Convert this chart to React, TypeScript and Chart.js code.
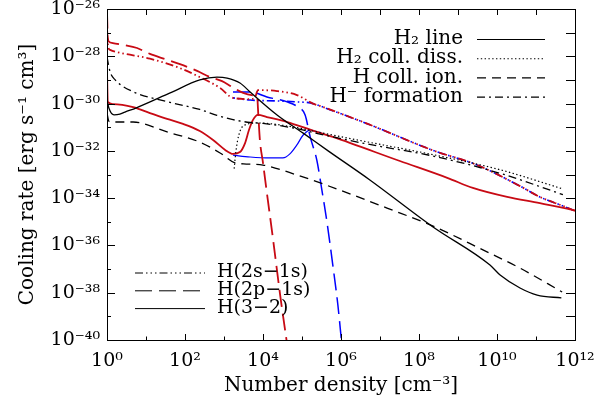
import { useEffect, useRef } from "react";
import { Chart, registerables } from "chart.js";

Chart.register(...registerables);

const FONT_FAMILY = "'DejaVu Serif', 'Liberation Serif', serif";

// ---- Data: log10 of number density [cm^-3] and log10 of cooling rate [erg s^-1 cm^3] ----
// Black curves (molecular / ionisation processes)
const h2LineN = [0, 0.05, 0.18, 0.33, 0.46, 0.74, 1.62, 2.38, 2.82, 3.08, 3.41, 3.67, 4.36, 5.03, 5.67, 6.74, 8.36, 9.82, 10.08, 10.59, 11.03, 11.65];
const h2LineRate = [-29.85, -30.2, -30.48, -30.45, -30.36, -30.19, -29.55, -29.0, -28.88, -28.92, -29.13, -29.51, -30.48, -31.25, -32.0, -33.23, -35.22, -36.83, -37.25, -37.8, -38.1, -38.22];

const h2DissN = [3.26, 3.31, 3.38, 3.49, 3.85, 4.77, 5.46, 6.67, 8.36, 10.08, 11.69];
const h2DissRate = [-32.75, -31.96, -31.33, -30.95, -30.82, -30.99, -31.22, -31.62, -32.16, -32.8, -33.61];

const hIonN = [0, 0.05, 0.15, 0.67, 1.54, 2.38, 2.9, 3.28, 3.5, 4.0, 4.87, 5.54, 6.31, 7.18, 8.36, 9.64, 10.59, 11.67];
const hIonRate = [-30.4, -30.75, -30.78, -30.78, -31.2, -31.63, -32.09, -32.51, -32.55, -32.6, -33.02, -33.4, -33.87, -34.42, -35.18, -36.19, -36.96, -37.97];

const hMinusN = [0, 0.08, 0.21, 0.67, 1.54, 2.38, 2.82, 3.23, 3.67, 4.0, 4.77, 5.46, 6.67, 8.36, 10.08, 11.69];
const hMinusRate = [-28.03, -28.66, -29.0, -29.5, -29.92, -30.25, -30.5, -30.68, -30.8, -30.84, -31.03, -31.29, -31.71, -32.22, -32.95, -33.85];

// Red curves (atomic hydrogen lines, case 1)
const red2s1sN = [0, 0.03, 0.08, 0.33, 1.1, 1.87, 2.38, 2.9, 3.23, 3.67, 3.79, 3.87, 4.36, 4.87, 5.28, 5.46, 6.67, 8.36, 9.49, 10.59, 11.1, 11.69, 12.0];
const red2s1sRate = [-26.8, -27.6, -27.73, -27.85, -28.1, -28.5, -28.88, -29.34, -29.76, -29.81, -29.76, -29.43, -29.47, -29.64, -30.0, -30.1, -30.85, -31.98, -32.6, -33.49, -33.95, -34.33, -34.54];

const red2p1sN = [0, 0.02, 0.05, 0.15, 0.41, 0.77, 1.1, 1.49, 1.87, 2.31, 2.64, 2.95, 3.21, 3.49, 3.79, 3.85, 3.88, 3.92, 4.0, 4.1, 4.26, 4.44, 4.62];
const red2p1sRate = [-26.1, -27.2, -27.38, -27.44, -27.52, -27.65, -27.9, -28.12, -28.33, -28.62, -28.88, -29.05, -29.3, -29.55, -29.66, -29.72, -30.48, -31.54, -32.51, -33.78, -35.77, -38.1, -40.2];

const red32N = [0, 0.02, 0.15, 0.67, 1.1, 1.54, 1.95, 2.38, 2.72, 3.03, 3.23, 3.41, 3.54, 3.64, 3.74, 3.87, 4.1, 4.62, 5.21, 5.79, 7.51, 8.74, 9.38, 10.26, 11.1, 12.0];
const red32Rate = [-28.6, -29.93, -30.02, -30.15, -30.4, -30.65, -30.86, -31.16, -31.54, -31.96, -32.13, -32.05, -31.67, -31.12, -30.7, -30.48, -30.57, -30.78, -31.1, -31.41, -32.43, -33.15, -33.57, -33.95, -34.21, -34.52];

// Blue curves (atomic hydrogen lines, case 2)
const blue2s1sN = [3.23, 3.67, 4.36, 4.87, 5.21, 5.36, 5.46, 6.67, 8.36, 9.49, 10.59, 11.1, 11.69, 12.0];
const blue2s1sRate = [-29.76, -29.85, -29.89, -29.93, -29.97, -30.04, -30.1, -30.85, -31.98, -32.6, -33.49, -33.95, -34.33, -34.54];

const blue2p1sN = [3.23, 3.67, 4.1, 4.62, 4.9, 5.08, 5.21, 5.38, 5.51, 5.64, 5.79, 5.92, 6.01];
const blue2p1sRate = [-29.51, -29.51, -29.72, -29.93, -30.15, -30.48, -31.41, -32.39, -33.66, -35.01, -36.83, -38.52, -40.0];

const blue32N = [3.23, 3.67, 4.18, 4.51, 4.69, 4.87, 5.03, 5.21, 5.36, 5.5];
const blue32Rate = [-32.18, -32.26, -32.3, -32.3, -32.13, -31.75, -31.33, -31.12, -31.18, -31.25];

// Axis ticks (exponents) and texts
const xTickExps = [0, 1, 2, 3, 4, 5, 6, 7, 8, 9, 10, 11, 12];
const yTickExps = [-40, -39, -38, -37, -36, -35, -34, -33, -32, -31, -30, -29, -28, -27, -26];
const xTitle = "Number density [cm⁻³]";
const yTitle = "Cooling rate [erg s⁻¹ cm³]";
const processLabels = ["H₂ line", "H₂ coll. diss.", "H coll. ion.", "H⁻ formation"];
const lineLabels = ["H(2s−1s)", "H(2p−1s)", "H(3−2)"];

// Styles
const RED = "#c80a14";
const BLUE = "#0000ff";
const BLACK = "#000000";
const DOT = [1.4, 2.4];
const DASH = [9, 6];
const DASHDOT = [8, 4, 2, 4];
const LONGDASH = [17, 7];
const DASH3DOT = [8, 3, 1.5, 3, 1.5, 3, 1.5, 3];
const DASH2DOT = [8, 3, 1.5, 3, 1.5, 3];
const processDashes = [[], DOT, DASH, DASHDOT];
const lineDashes = [DASH3DOT, LONGDASH, []];

const SUP: Record<string, string> = {
  "-": "⁻", "0": "⁰", "1": "¹", "2": "²", "3": "³", "4": "⁴",
  "5": "⁵", "6": "⁶", "7": "⁷", "8": "⁸", "9": "⁹",
};
const sup = (e: number) => String(e).split("").map((c) => SUP[c] ?? c).join("");

const pts = (ns: number[], rs: number[]) => ns.map((n, i) => ({ x: Math.pow(10, n), y: Math.pow(10, rs[i]) }));

function ds(label: string, ns: number[], rs: number[], color: string, dash: number[], width: number, offset = 0) {
  return {
    label,
    data: pts(ns, rs),
    borderColor: color,
    backgroundColor: color,
    borderWidth: width,
    borderDash: dash,
    borderDashOffset: offset,
    pointRadius: 0,
    pointHoverRadius: 0,
    fill: false,
    cubicInterpolationMode: "monotone" as const,
  };
}

const framePlugin = {
  id: "frame",
  afterDraw(chart: any) {
    const { ctx, chartArea: a } = chart;
    const xs = chart.scales.x;
    const ys = chart.scales.y;
    ctx.save();
    ctx.strokeStyle = "#000";
    ctx.lineWidth = 1;
    ctx.setLineDash([]);
    ctx.strokeRect(a.left + 0.5, a.top + 0.5, a.right - a.left, a.bottom - a.top);
    ctx.beginPath();
    xTickExps.forEach((e) => {
      const px = Math.round(xs.getPixelForValue(Math.pow(10, e))) + 0.5;
      const major = e % 2 === 0;
      ctx.moveTo(px, a.bottom);
      ctx.lineTo(px, a.bottom - (major ? 6 : 3.5));
      ctx.moveTo(px, a.top);
      ctx.lineTo(px, a.top + 6);
    });
    yTickExps.forEach((e) => {
      const py = Math.round(ys.getPixelForValue(Math.pow(10, e))) + 0.5;
      const major = e % 2 === 0;
      ctx.moveTo(a.left, py);
      ctx.lineTo(a.left + (major ? 8 : 4), py);
      ctx.moveTo(a.right, py);
      ctx.lineTo(a.right - 9, py);
    });
    ctx.stroke();
    ctx.restore();
  },
};

const legendPlugin = {
  id: "innerLegends",
  afterDraw(chart: any) {
    const { ctx, chartArea: a } = chart;
    ctx.save();
    ctx.font = `20px ${FONT_FAMILY}`;
    ctx.fillStyle = "#000";
    ctx.strokeStyle = "#000";
    ctx.textBaseline = "middle";
    ctx.lineWidth = 1.1;
    ctx.textAlign = "right";
    processLabels.forEach((lab, i) => {
      const y = a.top + 30 + i * 19.2;
      ctx.fillText(lab, a.right - 112, y);
      ctx.setLineDash(processDashes[i]);
      ctx.beginPath();
      ctx.moveTo(a.right - 98, y + 0.5);
      ctx.lineTo(a.right - 30, y + 0.5);
      ctx.stroke();
    });
    ctx.font = `19px ${FONT_FAMILY}`;
    ctx.textAlign = "left";
    ctx.lineWidth = 1;
    lineLabels.forEach((lab, i) => {
      const y = a.bottom - 67.5 + i * 17.8;
      ctx.fillText(lab, a.left + 110, y);
      ctx.setLineDash(lineDashes[i]);
      ctx.beginPath();
      ctx.moveTo(a.left + 28, y + 0.5);
      ctx.lineTo(a.left + 98, y + 0.5);
      ctx.stroke();
    });
    ctx.restore();
  },
};

const tickLabel = (v: number | string) => {
  const e = Math.round(Math.log10(Number(v)));
  return e % 2 === 0 ? "10" + sup(e) : "";
};

export default function App() {
  const ref = useRef<HTMLCanvasElement | null>(null);
  useEffect(() => {
    document.body.style.margin = "0";
    if (!ref.current) return;
    const chart = new Chart(ref.current, {
      type: "line",
      data: {
        datasets: [
          ds("H2 line", h2LineN, h2LineRate, BLACK, [], 1.3),
          ds("H2 coll. diss.", h2DissN, h2DissRate, BLACK, DOT, 1.2),
          ds("H coll. ion.", hIonN, hIonRate, BLACK, DASH, 1.3),
          ds("H- formation", hMinusN, hMinusRate, BLACK, DASHDOT, 1.3),
          ds("H(3-2) red", red32N, red32Rate, RED, [], 1.8),
          ds("H(2s-1s) red", red2s1sN, red2s1sRate, RED, DASH2DOT, 1.8),
          ds("H(2p-1s) red", red2p1sN, red2p1sRate, RED, LONGDASH, 1.8),
          ds("H(3-2) blue", blue32N, blue32Rate, BLUE, [], 1.2),
          ds("H(2s-1s) blue", blue2s1sN, blue2s1sRate, BLUE, DASH2DOT, 1.6, 6),
          ds("H(2p-1s) blue", blue2p1sN, blue2p1sRate, BLUE, LONGDASH, 1.5),
        ],
      },
      options: {
        responsive: false,
        animation: false,
        events: [],
        layout: { padding: { left: 0, right: 41, top: 9, bottom: 0 } },
        plugins: { legend: { display: false }, tooltip: { enabled: false }, title: { display: false } },
        scales: {
          x: {
            type: "logarithmic",
            min: 1,
            max: 1e12,
            afterBuildTicks: (scale: any) => {
              scale.ticks = xTickExps.map((e) => ({ value: Math.pow(10, e) }));
            },
            afterFit: (scale: any) => {
              scale.height = 60;
              scale.paddingLeft = 0;
              scale.paddingRight = 0;
            },
            ticks: {
              autoSkip: false,
              maxRotation: 0,
              minRotation: 0,
              padding: 10,
              color: "#000",
              font: { family: FONT_FAMILY, size: 19, lineHeight: 1.2 },
              callback: tickLabel,
            },
            grid: { display: false, drawTicks: false },
            border: { display: false },
            title: {
              display: true,
              text: xTitle,
              color: "#000",
              font: { family: FONT_FAMILY, size: 20, lineHeight: 1.2 },
              padding: { top: 0, bottom: 2 },
            },
          },
          y: {
            type: "logarithmic",
            min: 1e-40,
            max: 1e-26,
            afterBuildTicks: (scale: any) => {
              scale.ticks = yTickExps.map((e) => ({ value: Math.pow(10, e) }));
            },
            afterFit: (scale: any) => {
              scale.width = 107;
              scale.paddingTop = 0;
              scale.paddingBottom = 0;
            },
            ticks: {
              autoSkip: false,
              padding: 7,
              color: "#000",
              font: { family: FONT_FAMILY, size: 19, lineHeight: 1 },
              callback: tickLabel,
            },
            grid: { display: false, drawTicks: false },
            border: { display: false },
            title: {
              display: true,
              text: yTitle,
              color: "#000",
              font: { family: FONT_FAMILY, size: 20, lineHeight: 1.2 },
              padding: { top: 16, bottom: 0 },
            },
          },
        },
      },
      plugins: [framePlugin, legendPlugin],
    } as any);
    return () => chart.destroy();
  }, []);
  return (
    <div style={{ width: 616, height: 400, background: "#fff" }}>
      <canvas ref={ref} width={616} height={400} style={{ display: "block", width: 616, height: 400 }} />
    </div>
  );
}
